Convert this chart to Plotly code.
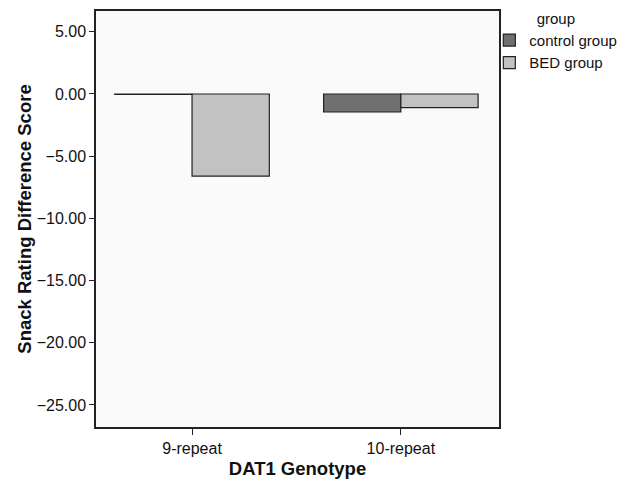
import plotly.graph_objects as go

categories = ["9-repeat", "10-repeat"]
control_values = [-0.04, -1.45]
bed_values = [-6.6, -1.1]
y_ticks = [5, 0, -5, -10, -15, -20, -25]

fig = go.Figure()
fig.add_trace(go.Bar(name="control group", x=categories, y=control_values,
                     marker=dict(color="#707070", line=dict(color="#222222", width=1.2))))
fig.add_trace(go.Bar(name="BED group", x=categories, y=bed_values,
                     marker=dict(color="#c2c2c2", line=dict(color="#222222", width=1.2))))

font = "Liberation Sans, Arial, sans-serif"
fig.update_layout(
    width=626, height=482,
    margin=dict(l=88, r=135, t=3, b=63, autoexpand=False),
    paper_bgcolor="white", plot_bgcolor="#fafafa",
    barmode="group", bargap=0.26, bargroupgap=0,
    font=dict(family=font, size=15, color="#111111"),
    showlegend=True,
    legend=dict(x=0.976, y=1.016, xanchor="left", yanchor="top",
                title=dict(text="group", side="top center", font=dict(size=15)),
                font=dict(size=15), itemwidth=30, tracegroupgap=0,
                bgcolor="rgba(0,0,0,0)"),
)
fig.update_xaxes(range=[-0.46, 1.47], showline=True, linecolor="#222222", linewidth=1.5,
                 mirror=True, ticks="outside", ticklen=6, tickcolor="#222222",
                 showgrid=False, tickfont=dict(size=16),
                 title=dict(text="<b>DAT1 Genotype</b>", font=dict(size=18.5), standoff=6))
fig.update_yaxes(range=[-26.77, 6.67], tickvals=y_ticks, tickformat=".2f",
                 showline=True, linecolor="#222222", linewidth=1.5, mirror=True,
                 ticks="outside", ticklen=5, tickcolor="#222222", showgrid=False,
                 zeroline=False, tickfont=dict(size=16),
                 title=dict(text="<b>Snack Rating Difference Score</b>", font=dict(size=18.5), standoff=0))

fig.write_html("out.html")
